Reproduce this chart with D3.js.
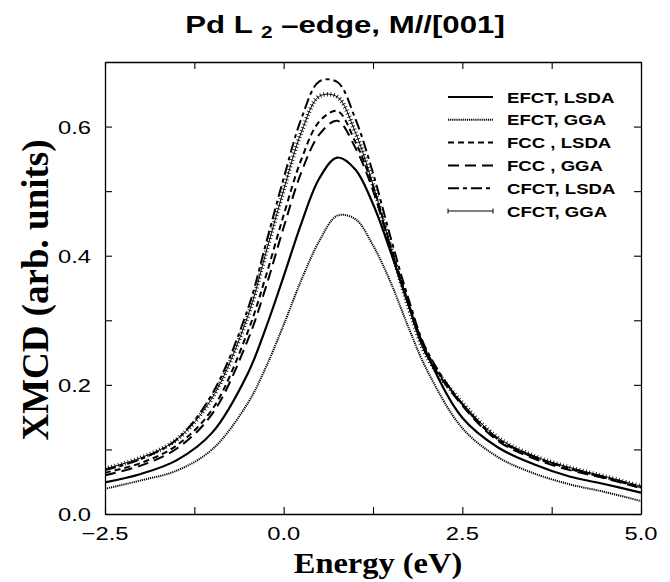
<!DOCTYPE html>
<html>
<head>
<meta charset="utf-8">
<script src="https://cdn.jsdelivr.net/npm/d3@7/dist/d3.min.js"></script>
<style>
  html, body { margin: 0; padding: 0; background: #fff; }
  svg { display: block; }
</style>
</head>
<body>
<svg id="chart" width="670" height="582"></svg>
<script>
// ---------- data ----------
const energy = [-2.5, -2.0, -1.5, -1.0, -0.5, -0.25, 0.0, 0.25, 0.5, 0.75, 1.0, 1.25, 1.5, 1.75, 2.0, 2.5, 3.0, 3.5, 4.0, 4.5, 5.0];

const efctLsda = [0.049, 0.062, 0.083, 0.126, 0.218, 0.288, 0.368, 0.451, 0.520, 0.552, 0.534, 0.480, 0.405, 0.323, 0.249, 0.149, 0.103, 0.077, 0.058, 0.046, 0.033];
const efctGga  = [0.039, 0.052, 0.067, 0.100, 0.172, 0.227, 0.293, 0.363, 0.423, 0.462, 0.457, 0.416, 0.358, 0.288, 0.224, 0.133, 0.088, 0.063, 0.046, 0.034, 0.020];
const fccLsda  = [0.064, 0.079, 0.106, 0.162, 0.283, 0.368, 0.463, 0.550, 0.608, 0.624, 0.577, 0.508, 0.414, 0.326, 0.251, 0.170, 0.115, 0.088, 0.070, 0.056, 0.041];
const fccGga   = [0.060, 0.075, 0.101, 0.155, 0.270, 0.351, 0.444, 0.530, 0.588, 0.609, 0.568, 0.501, 0.411, 0.324, 0.247, 0.168, 0.113, 0.086, 0.068, 0.055, 0.040];
const cfctLsda = [0.068, 0.085, 0.115, 0.186, 0.318, 0.418, 0.520, 0.613, 0.670, 0.669, 0.613, 0.528, 0.427, 0.332, 0.254, 0.170, 0.116, 0.089, 0.071, 0.057, 0.042];
const cfctGga  = [0.070, 0.087, 0.115, 0.180, 0.307, 0.404, 0.502, 0.592, 0.647, 0.646, 0.592, 0.510, 0.412, 0.320, 0.245, 0.172, 0.118, 0.090, 0.072, 0.058, 0.043];

const seriesNames = ["EFCT, LSDA", "EFCT, GGA", "FCC , LSDA", "FCC , GGA", "CFCT, LSDA", "CFCT, GGA"];
const seriesValues = [efctLsda, efctGga, fccLsda, fccGga, cfctLsda, cfctGga];

const xTicks = [-2.5, 0.0, 2.5, 5.0];
const xMinorTicks = [-1.25, 1.25, 3.75];
const yTicks = [0.0, 0.2, 0.4, 0.6];
const yMinorTicks = [0.1, 0.3, 0.5];

// ---------- styles ----------
const styles = [
  { width: 2.2, dash: null },             // solid
  { width: 2.0, dash: "1.2,0.9" },        // dotted
  { width: 2.0, dash: "6,4" },            // short dash
  { width: 2.0, dash: "11,6" },           // long dash
  { width: 2.0, dash: "11,4,4,4" },       // dash-dot
  { width: 1.0, dash: null, ticks: true } // thin with tick markers
];

// ---------- layout ----------
const svg = d3.select("#chart");
const pL = 105, pR = 641, pT = 62, pB = 514;

const x = d3.scaleLinear().domain([-2.5, 5.0]).range([pL, pR]);
const y = d3.scaleLinear().domain([0, 0.7]).range([pB, pT]);

const font = "'Liberation Sans', Arial, Helvetica, sans-serif";
const serif = "'Liberation Serif', 'Times New Roman', Times, serif";

// horizontally stretched text helper (the original lettering is wide)
function wideText(parent, px, py, str, anchor, size, sx, family, weight) {
  return parent.append("text")
    .attr("transform", `translate(${px},${py}) scale(${sx},1)`)
    .attr("text-anchor", anchor)
    .attr("font-family", family).attr("font-weight", weight || "normal")
    .attr("font-size", size).attr("fill", "#000")
    .text(str);
}

// clip
svg.append("defs").append("clipPath").attr("id", "clip")
  .append("rect").attr("x", pL).attr("y", pT).attr("width", pR - pL).attr("height", pB - pT);

// curves
const line = d3.line().x((d, i) => x(energy[i])).y(d => y(d)).curve(d3.curveCatmullRom.alpha(0.5));
const g = svg.append("g").attr("clip-path", "url(#clip)");
seriesValues.forEach((vals, k) => {
  const st = styles[k];
  g.append("path").attr("d", line(vals))
    .attr("fill", "none").attr("stroke", "#000")
    .attr("stroke-width", st.width)
    .attr("stroke-dasharray", st.dash)
    .attr("stroke-linejoin", "round");
  if (st.ticks) {
    g.append("path").attr("d", line(vals))
      .attr("fill", "none").attr("stroke", "#000")
      .attr("stroke-width", 4.5)
      .attr("stroke-dasharray", "0.8,2.6");
  }
});

// axes (mirrored, inward ticks)
const tickLen = 7;
function addAxis(axisGen, transform) {
  const a = svg.append("g").attr("transform", transform).call(axisGen);
  a.select(".domain").attr("stroke-width", 1.3);
  a.selectAll(".tick line").attr("stroke-width", 1.1);
  a.selectAll(".tick text").remove();
  return a;
}
addAxis(d3.axisBottom(x).tickValues(xTicks.concat(xMinorTicks)).tickSizeInner(-tickLen).tickSizeOuter(0), `translate(0,${pB})`);
addAxis(d3.axisTop(x).tickValues(xTicks.concat(xMinorTicks)).tickSizeInner(-tickLen).tickSizeOuter(0), `translate(0,${pT})`);
addAxis(d3.axisLeft(y).tickValues(yTicks.concat(yMinorTicks)).tickSizeInner(-tickLen).tickSizeOuter(0), `translate(${pL},0)`);
addAxis(d3.axisRight(y).tickValues(yTicks.concat(yMinorTicks)).tickSizeInner(-tickLen).tickSizeOuter(0), `translate(${pR},0)`);

// tick labels
const fmt = d3.format(".1f");
const tickSx = 1.25, tickSize = 19;
xTicks.forEach(v => wideText(svg, x(v), 540, fmt(v).replace("-", "\u2212"), "middle", tickSize, tickSx, font));
yTicks.forEach(v => wideText(svg, 91, y(v) + 7, fmt(v), "end", tickSize, tickSx, font));

// title
const title = svg.append("text")
  .attr("transform", `translate(345,33) scale(1.3,1)`)
  .attr("text-anchor", "middle")
  .attr("font-family", font).attr("font-weight", "bold").attr("font-size", 24).attr("fill", "#000");
title.append("tspan").text("Pd L ");
title.append("tspan").attr("font-size", 16).attr("dy", 5).text("2");
title.append("tspan").attr("dy", -5).text(" \u2013edge, M//[001]");

// axis titles
wideText(svg, 378, 573, "Energy (eV)", "middle", 29, 1.12, serif, "bold");
svg.append("text").attr("transform", `translate(48,${(pT + pB) / 2 + 2}) rotate(-90)`)
  .attr("text-anchor", "middle")
  .attr("font-family", serif).attr("font-weight", "bold").attr("font-size", 37).attr("fill", "#000")
  .text("XMCD (arb. units)");

// legend
const legY0 = 97, legDy = 22.8, legX1 = 448, legX2 = 493, legTX = 507;
seriesNames.forEach((name, k) => {
  const st = styles[k];
  const yy = legY0 + k * legDy;
  svg.append("line").attr("x1", legX1).attr("x2", legX2).attr("y1", yy).attr("y2", yy)
    .attr("stroke", "#000").attr("stroke-width", st.width).attr("stroke-dasharray", st.dash);
  if (st.ticks) {
    [legX1, legX2].forEach(xx => svg.append("line").attr("x1", xx).attr("x2", xx)
      .attr("y1", yy - 2.5).attr("y2", yy + 2.5).attr("stroke", "#000").attr("stroke-width", 1));
  }
  wideText(svg, legTX, yy + 5.5, name, "start", 15, 1.24, font, "bold");
});
</script>
</body>
</html>
